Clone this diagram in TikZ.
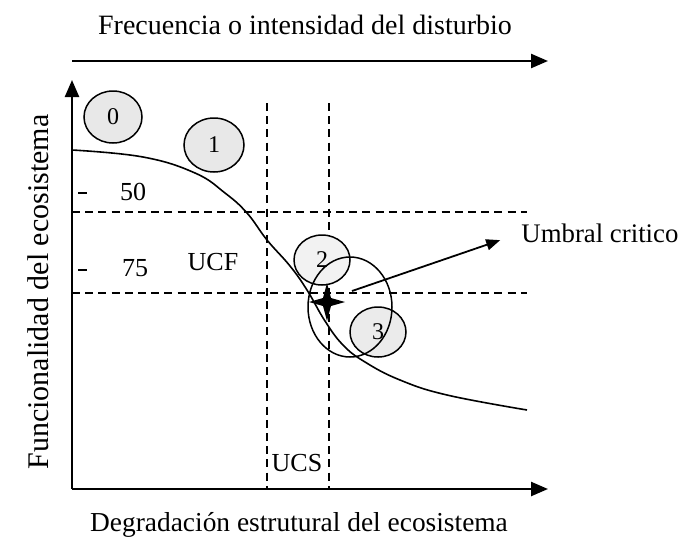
\documentclass[tikz,border=0pt]{standalone}
\usepackage{fontspec}
\setmainfont{Liberation Serif}
\usetikzlibrary{shapes.geometric,arrows.meta}
\begin{document}
\begin{tikzpicture}[x=0.5pt,y=-0.5pt,
  axis/.style={line width=1.2pt,-{Triangle[length=8.5pt,width=7pt]}},
  guide/.style={line width=0.8pt,dash pattern=on 4pt off 2.6pt},
  blob/.style={ellipse,draw,line width=0.75pt,fill=black!9,inner sep=0pt,font=\fontsize{12}{13}\selectfont},
  lab/.style={font=\fontsize{13}{15}\selectfont,inner sep=0pt},
  curve/.style={line width=0.8pt}]
\useasboundingbox (0,0) rectangle (679,542);
% frame coordinates
\coordinate (O) at (72,489);
\coordinate (ytop) at (72,80);
\coordinate (xend) at (548,489);
\coordinate (tstart) at (72,61);
\coordinate (tend) at (548,61);
% titles
\node[lab,font=\fontsize{14}{16}\selectfont] (ttop) at (305,25) {Frecuencia o intensidad del disturbio};
\node[lab,font=\fontsize{13.7}{16}\selectfont] (tbot) at (299,525) {Degradación estrutural del ecosistema};
\node[lab,rotate=90,font=\fontsize{15}{17}\selectfont] (tleft) at (38,292) {Funcionalidad del ecosistema};
% guides
\coordinate (h1a) at (72,212); \coordinate (h1b) at (527,212);
\coordinate (h2a) at (72,293); \coordinate (h2b) at (527,293);
\coordinate (v1a) at (267,103); \coordinate (v1b) at (267,489);
\coordinate (v2a) at (329,103); \coordinate (v2b) at (329,489);
\draw[guide] (h1a) -- (h1b);
\draw[guide] (h2a) -- (h2b);
\draw[guide] (v1a) -- (v1b);
\draw[guide] (v2a) -- (v2b);
% axes
\draw[axis] (O) -- (ytop);
\draw[axis] (O) -- (xend);
\draw[axis] (tstart) -- (tend);
% ticks and values
\coordinate (t1a) at (78,193); \coordinate (t1b) at (87,193);
\coordinate (t2a) at (78,270); \coordinate (t2b) at (87,270);
\draw[line width=0.8pt] (t1a) -- (t1b);
\draw[line width=0.8pt] (t2a) -- (t2b);
\node[lab] (v50) at (133,192) {50};
\node[lab] (v75) at (135,268) {75};
\node[lab] (ucf) at (213,262) {UCF};
\node[lab] (ucs) at (297,463) {UCS};
% circles
\node[blob,minimum width=29pt,minimum height=26pt] (c0) at (113,117) {0};
\node[blob,minimum width=30pt,minimum height=27pt] (c1) at (214,145) {1};
\node[blob,minimum width=28pt,minimum height=25pt,fill=black!5] (c2) at (322,260) {2};
\node[blob,minimum width=28pt,minimum height=25pt,fill=black!8] (c3) at (378,332) {3};
\node[ellipse,draw,line width=0.75pt,minimum width=42pt,minimum height=50pt,inner sep=0pt] (big) at (350,307) {};
% curve
\draw[curve] plot[smooth,tension=0.7] coordinates {(72,150) (143,157) (195,173) (225,193) (247,213) (267,240) (290,266) (307,290) (325,321) (343,345) (365,362) (400,380) (447,395) (527,410)};
% star
\coordinate (star) at (327,302);
\fill (star) ++(-18,0) -- ++(14,-4) -- ++(4,-15) -- ++(4,15) -- ++(14,4) -- ++(-14,4) -- ++(-4,15) -- ++(-4,-15) -- cycle;
% umbral critico
\node[lab,anchor=west,font=\fontsize{13.4}{15}\selectfont] (umb) at (521,233) {Umbral critico};
\coordinate (ustart) at (352,291);
\draw[line width=0.9pt,-{Triangle[length=7pt,width=5.5pt]},shorten >=11pt] (ustart) -- (umb.west);
\end{tikzpicture}
\end{document}
